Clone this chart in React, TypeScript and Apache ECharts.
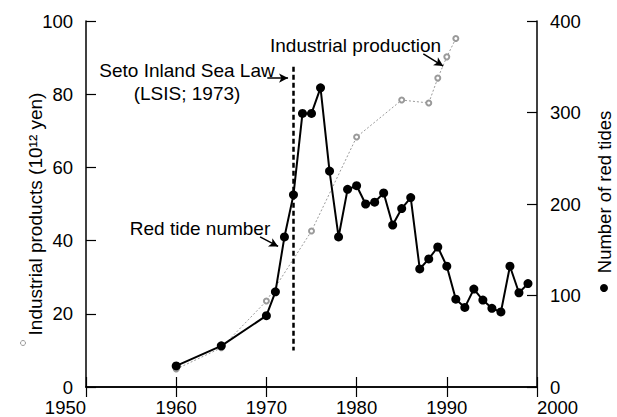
import React, { useEffect, useRef } from "react";
import * as echarts from "echarts";

const tideYears = [1960, 1965, 1970, 1971, 1972, 1973, 1974, 1975, 1976, 1977, 1978, 1979, 1980, 1981, 1982, 1983, 1984, 1985, 1986, 1987, 1988, 1989, 1990, 1991, 1992, 1993, 1994, 1995, 1996, 1997, 1998, 1999];
const tideCounts = [23, 45, 78, 104, 164, 210, 299, 299, 327, 236, 164, 216, 220, 200, 202, 212, 177, 195, 207, 129, 140, 153, 132, 96, 87, 107, 95, 86, 82, 132, 103, 113];

const prodYears = [1960, 1965, 1970, 1975, 1980, 1985, 1988, 1989, 1990, 1991];
const prodValues = [4.9, 10.7, 23.5, 42.6, 68.3, 78.4, 77.6, 84.4, 90.2, 95.2];

const leftTitle = "Industrial products (10¹² yen)";
const rightTitle = "Number of red tides";

const FONT = "'Liberation Sans', Arial, Helvetica, sans-serif";

export default function App() {
  const ref = useRef<HTMLDivElement>(null);
  useEffect(() => {
    if (!ref.current) return;
    const chart = echarts.init(ref.current, null, { renderer: "svg" });
    const tick = { show: true, inside: true, length: 10, lineStyle: { color: "#000", width: 1.2 } };
    const axisLine = { show: true, lineStyle: { color: "#000", width: 1.5 } };
    const labelStyle = { color: "#000", fontSize: 18.5, fontFamily: FONT };
    const option: any = {
      animation: false,
      backgroundColor: "#fff",
      textStyle: { fontFamily: FONT },
      grid: { left: 86, right: 80, top: 21, bottom: 30, containLabel: false },
      xAxis: [
        {
          type: "value", min: 1950, max: 2000, interval: 10, position: "bottom",
          axisLine, axisTick: tick, splitLine: { show: false },
          axisLabel: { ...labelStyle, margin: 11, alignMinLabel: "right", alignMaxLabel: "left", formatter: (v: number) => String(v) },
        },
        {
          type: "value", min: 1950, max: 2000, interval: 10, position: "top",
          axisLine, axisTick: tick, splitLine: { show: false }, axisLabel: { show: false },
        },
      ],
      yAxis: [
        {
          type: "value", min: 0, max: 100, interval: 20, position: "left",
          axisLine, axisTick: tick, splitLine: { show: false },
          axisLabel: { ...labelStyle, margin: 13 },
        },
        {
          type: "value", min: 0, max: 400, interval: 100, position: "right",
          axisLine, axisTick: tick, splitLine: { show: false },
          axisLabel: { ...labelStyle, margin: 13 },
        },
      ],
      series: [
        {
          name: "Industrial production",
          type: "line",
          xAxisIndex: 0,
          yAxisIndex: 0,
          data: prodYears.map((y, i) => [y, prodValues[i]]),
          symbol: "emptyCircle",
          symbolSize: 5,
          itemStyle: { color: "#9a9a9a", borderWidth: 1 },
          lineStyle: { color: "#9a9a9a", width: 1, type: [2, 2] },
          z: 2,
          markLine: {
            silent: true,
            animation: false,
            label: { show: false },
            data: [
              [
                { coord: [1973, 87.5], symbol: "none", lineStyle: { color: "#000", width: 2.5, type: [5, 3] } },
                { coord: [1973, 10], symbol: "none" },
              ],
              [
                { coord: [1970.1, 84.4], symbol: "none", lineStyle: { color: "#000", width: 1.5, type: "solid" } },
                { coord: [1972.4, 84.4], symbol: "arrow", symbolSize: [7, 9] },
              ],
              [
                { coord: [1987.4, 91.0], symbol: "none", lineStyle: { color: "#000", width: 1.5, type: "solid" } },
                { coord: [1989.6, 87.7], symbol: "arrow", symbolSize: [7, 9] },
              ],
              [
                { coord: [1969.3, 41.0], symbol: "none", lineStyle: { color: "#000", width: 1.5, type: "solid" } },
                { coord: [1971.3, 38.4], symbol: "arrow", symbolSize: [7, 9] },
              ],
            ],
          },
        },
        {
          name: "Number of red tides",
          type: "line",
          xAxisIndex: 0,
          yAxisIndex: 1,
          data: tideYears.map((y, i) => [y, tideCounts[i]]),
          symbol: "circle",
          symbolSize: 9,
          itemStyle: { color: "#000" },
          lineStyle: { color: "#000", width: 2 },
          z: 3,
        },
      ],
      graphic: [
        { type: "text", x: 270, y: 45, style: { text: "Industrial production", fill: "#000", fontSize: 19, fontFamily: FONT, align: "left", verticalAlign: "middle" } },
        { type: "text", x: 187, y: 70, style: { text: "Seto Inland Sea Law", fill: "#000", fontSize: 19, fontFamily: FONT, align: "center", verticalAlign: "middle" } },
        { type: "text", x: 187, y: 93, style: { text: "(LSIS; 1973)", fill: "#000", fontSize: 19, fontFamily: FONT, align: "center", verticalAlign: "middle" } },
        { type: "text", x: 200, y: 228, style: { text: "Red tide number", fill: "#000", fontSize: 19, fontFamily: FONT, align: "center", verticalAlign: "middle" } },
        { type: "text", x: 35, y: 214, rotation: Math.PI / 2, style: { text: leftTitle, fill: "#000", fontSize: 19, fontFamily: FONT, align: "center", verticalAlign: "middle" } },
        { type: "circle", shape: { cx: 23, cy: 343, r: 2.5 }, style: { fill: "#fff", stroke: "#999", lineWidth: 1 } },
        { type: "text", x: 604, y: 192, rotation: Math.PI / 2, style: { text: rightTitle, fill: "#000", fontSize: 18.5, fontFamily: FONT, align: "center", verticalAlign: "middle" } },
        { type: "circle", shape: { cx: 604, cy: 288, r: 4 }, style: { fill: "#000" } },
      ],
    };
    chart.setOption(option);
    return () => chart.dispose();
  }, []);
  return <div ref={ref} style={{ position: "fixed", left: 0, top: 0, width: 617, height: 417 }} />;
}
